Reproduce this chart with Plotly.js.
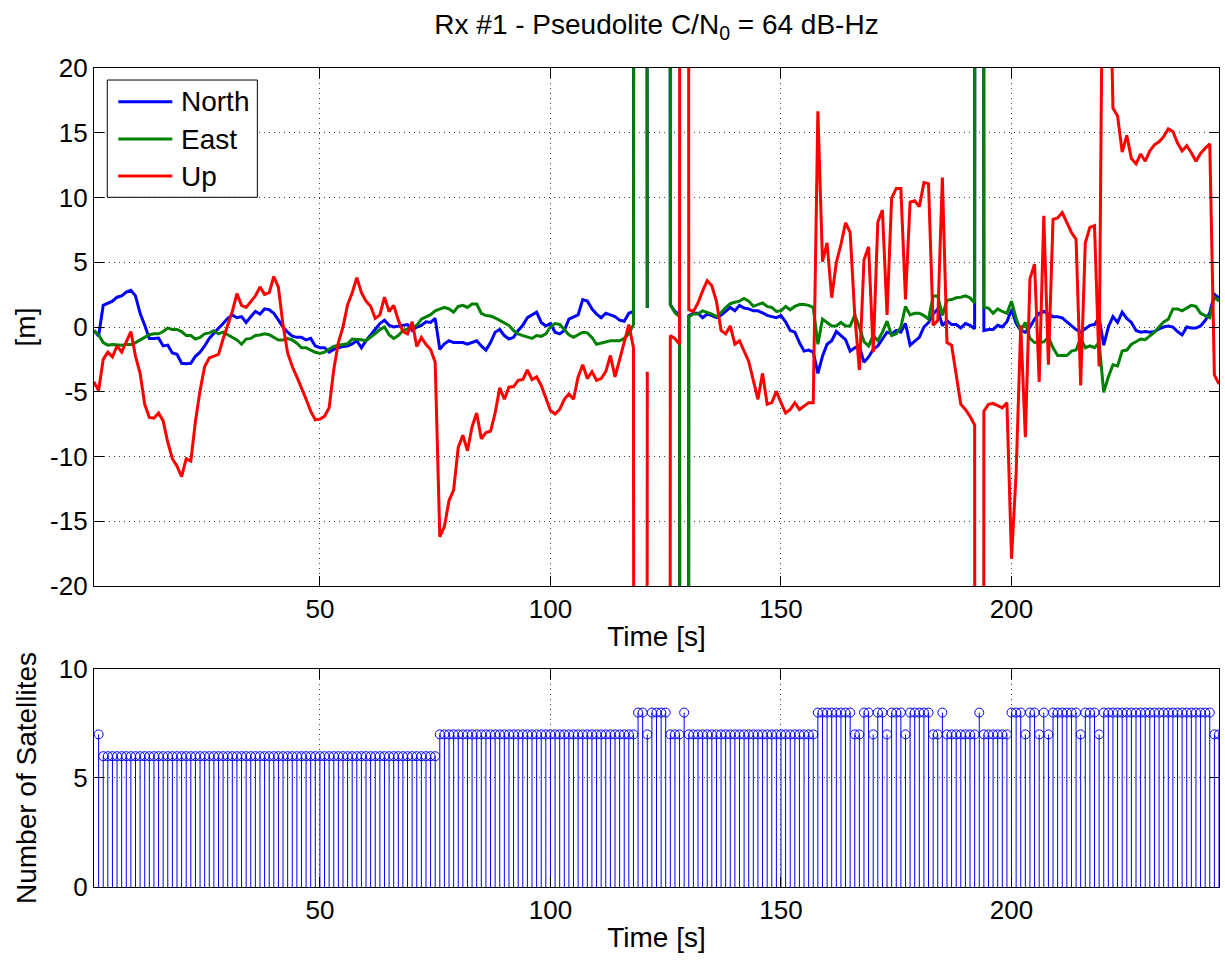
<!DOCTYPE html>
<html>
<head>
<meta charset="utf-8">
<script src="https://cdn.plot.ly/plotly-3.0.1.min.js"></script>
<style>html,body{margin:0;padding:0;background:#fff;}#chart{width:1225px;height:962px;}</style>
</head>
<body>
<div id="chart"></div>
<script>
// ---- Data ----
// Position error samples, 1 per second, starting at t = 1 s.
// Values of +-800 are off-scale excursions; null = no solution.
const startTime = 1;
const north = [
  -0.27, -0.7, 1.67, 1.86, 2.0, 2.3, 2.4, 2.7, 2.84, 2.4,
  1.06, 0.13, -0.88, -0.88, -0.85, -1.46, -1.4, -2.0, -2.1, -2.8,
  -2.84, -2.8, -2.26, -1.94, -1.46, -0.88, -0.53, -0.1, 0.27, 0.66,
  0.93, 0.72, 0.8, 0.35, 0.8, 1.2, 1.0, 1.4, 1.33, 1.06,
  0.53, 0.0, -0.4, -0.7, -0.8, -0.8, -1.0, -0.88, -1.46, -1.6,
  -1.6, -1.94, -1.73, -1.6, -1.5, -1.46, -1.3, -1.06, -1.6, -1.06,
  -0.6, -0.13, 0.27, 0.53, 0.13, 0.0, 0.05, 0.13, 0.19, -0.27,
  0.0, 0.13, 0.4, 0.35, 0.66, -1.73, -1.3, -1.06, -1.2, -1.2,
  -1.2, -1.33, -1.2, -1.06, -1.46, -1.78, -1.2, -0.4, -0.19, -0.66,
  -0.93, -0.8, -0.27, 0.13, 0.72, 0.95, 1.14, 0.35, 0.08, 0.27,
  -0.4, -0.53, -0.27, 0.61, 0.8, 0.93, 2.12, 2.0, 1.4, 1.0,
  0.72, 1.06, 0.93, 0.8, 0.53, 0.45, 1.06, 1.2, 800, 800,
  1.46, null, null, null, 800, 1.73, 1.2, 0.93, -800, 0.88,
  1.06, 1.06, 0.72, 1.0, 0.88, 0.72, 0.9, 1.2, 1.51, 1.25,
  1.67, 1.46, 1.4, 1.25, 1.25, 1.1, 0.9, 0.8, 0.72, 0.88,
  0.4, -0.27, -0.4, -1.2, -1.86, -1.78, -1.94, -3.58, -2.26, -1.33,
  -1.06, -0.35, -0.66, -0.98, -1.86, -1.6, -1.46, -2.73, -2.31, -1.73,
  -1.46, -0.93, -0.4, -0.53, -0.27, -0.4, 0.27, -1.4, -1.06, -0.8,
  0.0, 0.35, 1.0, 1.4, 0.1, 0.5, 0.19, 0.19, -0.08, 0.27,
  0.13, -0.13, 800, -0.27, -0.19, -0.19, 0.13, 0.0, 0.4, 1.33,
  0.27, -0.27, -0.4, 0.0, 0.61, 1.06, 1.2, 1.0, 0.8, 0.8,
  0.7, 0.4, 0.1, -0.2, -0.4, -0.1, 0.13, 0.19, 0.72, -1.4,
  0.0, 0.8, 0.35, 1.14, 0.66, 0.35, -0.27, -0.4, -0.35, -0.4,
  -0.35, -0.15, 0.0, 0.08, 0.0, -0.35, -0.61, 0.0, -0.08, -0.08,
  0.08, 0.5, 1.1, 2.52, 2.26
];
const east = [
  -0.27, -0.6, -1.2, -1.4, -1.35, -1.4, -1.4, -1.35, -1.35, -1.2,
  -1.0, -0.85, -0.6, -0.53, -0.53, -0.35, -0.08, -0.19, -0.19, -0.35,
  -0.66, -0.66, -0.93, -0.8, -0.53, -0.45, -0.29, -0.53, -0.4, -0.6,
  -0.8, -1.0, -1.33, -0.93, -0.88, -0.66, -0.61, -0.53, -0.6, -0.8,
  -1.0, -1.0, -0.9, -1.0, -1.25, -1.6, -1.6, -1.78, -1.95, -2.04,
  -1.94, -1.7, -1.5, -1.4, -1.35, -1.3, -0.93, -0.95, -0.98, -1.06,
  -0.8, -0.5, -0.2, 0.0, -0.6, -0.88, -0.66, -0.27, -0.15, 0.0,
  0.13, 0.6, 0.8, 0.95, 1.25, 1.4, 1.51, 1.4, 1.14, 1.59,
  1.67, 1.51, 1.78, 1.78, 1.06, 0.88, 0.85, 0.7, 0.5, 0.3,
  0.13, -0.27, -0.53, -0.66, -0.8, -0.88, -0.66, -0.72, -0.53, 0.0,
  0.27, 0.2, -0.2, -0.6, -0.8, -0.6, -0.4, -0.45, -0.8, -1.33,
  -1.25, -1.15, -1.06, -1.06, -1.06, -0.88, -0.53, 0.19, 800, 800,
  1.46, null, null, null, 800, 1.73, 1.1, 0.8, -800, 0.8,
  1.0, 1.0, 1.25, 1.14, 1.0, 0.8, 1.1, 1.5, 1.8, 1.91,
  2.0, 2.2, 2.0, 1.6, 1.7, 1.86, 1.59, 1.51, 1.2, 1.25,
  1.59, 1.33, 1.59, 1.73, 1.73, 1.67, 1.51, -1.33, 0.61, 0.35,
  0.08, 0.08, 0.35, 0.08, 0.08, 0.93, 0.0, -1.14, -1.46, -0.66,
  -1.06, -0.4, 0.45, -0.66, -0.53, 0.0, 1.59, 0.93, 1.06, 1.06,
  0.88, 0.61, 2.4, 2.4, 0.9, 2.06, 2.12, 2.26, 2.3, 2.4,
  2.26, 1.86, 800, 1.51, 1.46, 1.06, 1.4, 1.2, 1.06, 1.99,
  0.66, -0.27, 0.35, -0.88, -1.2, -1.2, -1.14, -0.8, -1.6, -2.2,
  -2.2, -2.2, -1.86, -1.78, -0.88, -1.6, -1.46, -1.6, -1.2, -5.05,
  -3.85, -2.92, -3.0, -1.86, -1.78, -1.33, -1.14, -0.93, -0.98, -0.66,
  -0.4, 0.0, 0.4, 0.6, 1.4, 1.4, 1.25, 1.46, 1.67, 1.59,
  1.06, 0.88, 0.72, 2.31, 1.99
];
const up = [
  -4.25, -4.9, -2.5, -1.94, -2.3, -1.46, -1.94, -1.2, -0.35, -2.26,
  -3.58, -5.97, -6.98, -7.04, -6.64, -7.25, -8.9, -10.17, -10.75, -11.55,
  -10.17, -10.36, -7.3, -4.91, -3.05, -2.39, -2.26, -2.12, -0.93, 0.13,
  1.2, 2.58, 1.67, 1.51, 2.0, 2.4, 3.1, 2.52, 2.65, 3.9,
  3.05, 0.13, -2.0, -3.05, -3.85, -4.65, -5.58, -6.5, -7.17, -7.1,
  -6.9, -6.24, -3.3, -1.2, 0.0, 1.73, 2.65, 3.8, 2.65, 2.0,
  1.6, 0.66, 0.93, 2.31, 1.2, 1.67, 0.53, -0.35, -0.53, 0.4,
  -1.51, -0.8, -1.33, -1.73, -2.73, -16.2, -15.4, -13.4, -12.6, -9.3,
  -8.36, -9.56, -7.7, -6.64, -8.63, -8.15, -8.05, -6.64, -4.7, -5.58,
  -4.65, -4.6, -4.12, -4.06, -3.32, -4.06, -3.85, -4.51, -5.44, -6.45,
  -6.72, -6.37, -5.58, -5.18, -5.58, -3.85, -2.92, -3.98, -3.45, -4.12,
  -3.98, -3.45, -2.2, -3.85, -2.52, -1.2, 0.19, -1.6, -800, -800,
  -3.45, null, null, null, -800, -0.66, -0.9, -1.33, 800, 1.33,
  1.2, 1.86, 2.79, 3.58, 3.19, 1.99, -0.27, -0.53, 0.08, -1.33,
  -1.06, -1.86, -2.66, -4.12, -5.58, -3.58, -5.97, -5.84, -4.97, -5.84,
  -6.64, -6.37, -5.84, -6.37, -6.11, -5.84, -5.84, 16.65, 5.05, 6.5,
  2.26, 4.97, 6.37, 8.05, 7.3, 0.93, -3.32, 5.18, 6.19, -1.94,
  8.1, 9.03, 0.93, 9.96, 10.7, 10.7, 2.12, 9.64, 9.75, 9.29,
  11.15, 11.07, 0.13, 0.5, 11.55, -1.2, -1.4, -3.58, -5.97, -6.37,
  -6.9, -7.57, -800, -6.5, -5.97, -5.9, -6.1, -6.24, -5.84, -17.9,
  -11.3, 0.13, -8.5, 3.72, 4.86, -4.25, 8.58, -2.92, 8.31, 8.42,
  8.84, 8.1, 7.3, 6.77, -4.51, 6.5, 7.7, 7.83, -3.05, 40,
  35, 16.9, 16.3, 13.5, 14.8, 13.0, 12.6, 13.36, 12.8, 13.6,
  14.07, 14.3, 14.7, 15.3, 15.1, 14.2, 13.6, 14.0, 13.46, 12.8,
  13.4, 13.8, 14.15, -3.7, -4.4
];

// Number of satellites used, 1 per second, starting at t = 2 s.
const satStartTime = 2;
const satellites = [
  7, 6, 6, 6, 6, 6, 6, 6, 6, 6,
  6, 6, 6, 6, 6, 6, 6, 6, 6, 6,
  6, 6, 6, 6, 6, 6, 6, 6, 6, 6,
  6, 6, 6, 6, 6, 6, 6, 6, 6, 6,
  6, 6, 6, 6, 6, 6, 6, 6, 6, 6,
  6, 6, 6, 6, 6, 6, 6, 6, 6, 6,
  6, 6, 6, 6, 6, 6, 6, 6, 6, 6,
  6, 6, 6, 6, 7, 7, 7, 7, 7, 7,
  7, 7, 7, 7, 7, 7, 7, 7, 7, 7,
  7, 7, 7, 7, 7, 7, 7, 7, 7, 7,
  7, 7, 7, 7, 7, 7, 7, 7, 7, 7,
  7, 7, 7, 7, 7, 7, 7, 8, 8, 7,
  8, 8, 8, 8, 7, 7, 7, 8, 7, 7,
  7, 7, 7, 7, 7, 7, 7, 7, 7, 7,
  7, 7, 7, 7, 7, 7, 7, 7, 7, 7,
  7, 7, 7, 7, 7, 7, 8, 8, 8, 8,
  8, 8, 8, 8, 7, 7, 8, 8, 7, 8,
  8, 7, 8, 8, 8, 7, 8, 8, 8, 8,
  8, 7, 7, 8, 7, 7, 7, 7, 7, 7,
  7, 8, 7, 7, 7, 7, 7, 7, 8, 8,
  8, 7, 8, 8, 7, 8, 7, 8, 8, 8,
  8, 8, 8, 7, 8, 8, 8, 7, 8, 8,
  8, 8, 8, 8, 8, 8, 8, 8, 8, 8,
  8, 8, 8, 8, 8, 8, 8, 8, 8, 8,
  8, 8, 7, 7
];

// Axis ticks and labels
const xTickVals = [50, 100, 150, 200];
const xTickText = ['50', '100', '150', '200'];
const yTickVals = [-20, -15, -10, -5, 0, 5, 10, 15, 20];
const yTickText = ['-20', '-15', '-10', '-5', '0', '5', '10', '15', '20'];
const y2TickVals = [0, 5, 10];
const y2TickText = ['0', '5', '10'];
const seriesNames = ['North', 'East', 'Up'];
const seriesColors = ['#0000ff', '#008000', '#ff0000'];
const titleText = 'Rx #1 - Pseudolite C/N<sub>0</sub> = 64 dB-Hz';

// ---- Build traces ----
const time = north.map((_, i) => startTime + i);
const satTime = satellites.map((_, i) => satStartTime + i);

const traces = [north, east, up].map((vals, k) => ({
  type: 'scatter', mode: 'lines', x: time, y: vals,
  name: seriesNames[k], xaxis: 'x', yaxis: 'y',
  line: {color: seriesColors[k], width: 3},
  connectgaps: false, hoverinfo: 'skip', showlegend: false
}));

traces.push({
  type: 'scatter', mode: 'markers', x: satTime, y: satellites,
  name: 'Number of Satellites',
  xaxis: 'x2', yaxis: 'y2', showlegend: false, hoverinfo: 'skip',
  marker: {symbol: 'circle-open', size: 9, color: '#0000ff', line: {width: 1, color: '#0000ff'}},
  error_y: {type: 'data', symmetric: false, array: satellites.map(() => 0),
            arrayminus: satellites, width: 0, thickness: 1, color: '#0000ff'},
  cliponaxis: true
});

const font = 'Liberation Sans, Arial, Helvetica, sans-serif';
const gridDash = '1px,4px';
const baseAxis = {
  showline: true, linecolor: '#000', linewidth: 1.2, mirror: 'ticks',
  ticks: 'inside', ticklen: 10, tickwidth: 1, tickcolor: '#000',
  showgrid: true, gridcolor: 'rgba(0,0,0,0.75)', gridwidth: 1, griddash: gridDash,
  zeroline: false, tickfont: {family: font, size: 26, color: '#000'}
};

// Legend box drawn in the top axes (domain-relative placement)
const legendBox = {x0: 0.0118, x1: 0.1452, y0: 0.7504, y1: 0.9768};
const legendRowY = [0.935, 0.8629, 0.7915];
const legendLineX = [0.0216, 0.0696];
const legendTextX = 0.0756;

const shapes = [{
  type: 'rect', xref: 'x domain', yref: 'y domain',
  x0: legendBox.x0, x1: legendBox.x1, y0: legendBox.y0, y1: legendBox.y1,
  line: {color: '#000', width: 1}, fillcolor: '#fff', layer: 'above'
}];
const annotations = [];
seriesNames.forEach((nm, k) => {
  shapes.push({
    type: 'line', xref: 'x domain', yref: 'y domain',
    x0: legendLineX[0], x1: legendLineX[1], y0: legendRowY[k], y1: legendRowY[k],
    line: {color: seriesColors[k], width: 3}, layer: 'above'
  });
  annotations.push({
    text: nm, xref: 'x domain', yref: 'y domain', x: legendTextX, y: legendRowY[k],
    xanchor: 'left', yanchor: 'middle', showarrow: false,
    font: {family: font, size: 28, color: '#000'}
  });
});

const layout = {
  width: 1225, height: 962,
  margin: {l: 94, r: 6, t: 68, b: 75},
  paper_bgcolor: '#fff', plot_bgcolor: '#fff',
  font: {family: font, size: 26, color: '#000'},
  title: {text: titleText, font: {family: font, size: 28, color: '#000'},
          x: 0.5, xref: 'paper', xanchor: 'center',
          y: 1 - 24.5 / 962, yref: 'container', yanchor: 'middle'},
  showlegend: false,
  shapes: shapes,
  annotations: annotations,
  xaxis: Object.assign({}, baseAxis, {
    domain: [0, 1], anchor: 'y', range: [1, 245],
    tickmode: 'array', tickvals: xTickVals, ticktext: xTickText,
    title: {text: 'Time [s]', font: {family: font, size: 28}, standoff: 3}
  }),
  yaxis: Object.assign({}, baseAxis, {
    domain: [0.3675, 1], anchor: 'x', range: [-20, 20],
    tickmode: 'array', tickvals: yTickVals, ticktext: yTickText,
    title: {text: '[m]', font: {family: font, size: 28}, standoff: 6}
  }),
  xaxis2: Object.assign({}, baseAxis, {
    domain: [0, 1], anchor: 'y2', range: [1, 245],
    tickmode: 'array', tickvals: xTickVals, ticktext: xTickText,
    title: {text: 'Time [s]', font: {family: font, size: 28}, standoff: 3}
  }),
  yaxis2: Object.assign({}, baseAxis, {
    domain: [0, 0.2662], anchor: 'x2', range: [0, 10],
    tickmode: 'array', tickvals: y2TickVals, ticktext: y2TickText,
    title: {text: 'Number of Satellites', font: {family: font, size: 28}, standoff: 13}
  })
};

Plotly.newPlot('chart', traces, layout, {staticPlot: true, displayModeBar: false});
</script>
</body>
</html>
